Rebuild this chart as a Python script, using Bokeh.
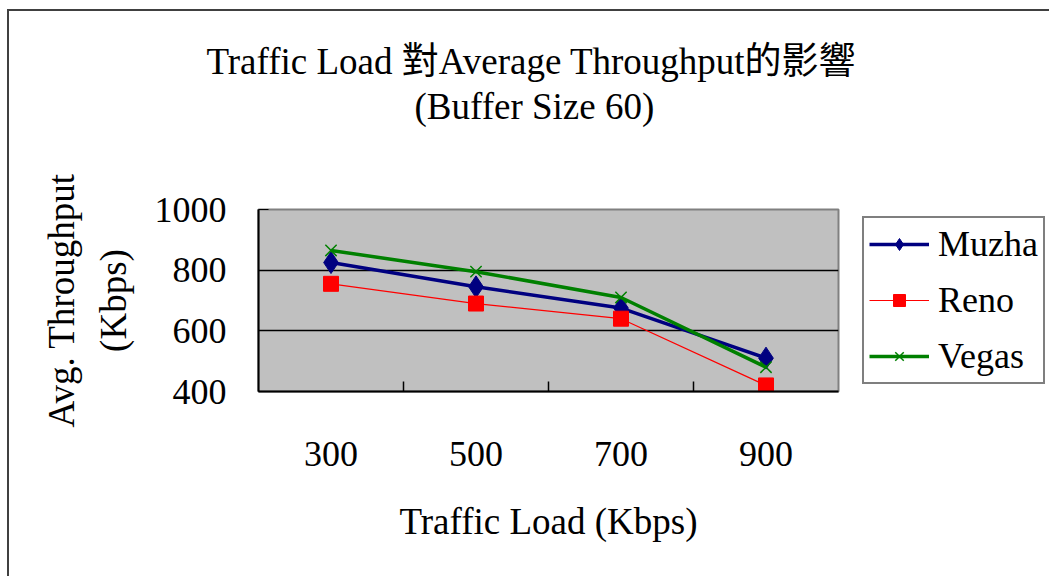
from bokeh.plotting import figure
from bokeh.models import (ColumnDataSource, FixedTicker, Legend, LegendItem,
                          Range1d, Title, LinearAxis)
from bokeh.embed import file_html
from bokeh.resources import INLINE

# ---- data ----
loads = [300, 500, 700, 900]
load_labels = ["300", "500", "700", "900"]
muzha = [825, 745, 675, 510]
reno = [755, 690, 640, 420]
vegas = [865, 795, 710, 480]
y_ticks = [400, 600, 800, 1000]
category_bounds = [400, 600, 800]

title1 = "Traffic Load 對Average Throughput的影響"
title2 = "(Buffer Size 60)"
xlabel = "Traffic Load (Kbps)"
ylabel1 = "Avg. Throughput"
ylabel2 = "(Kbps)"

FONT = "'Liberation Serif', 'Noto Sans CJK TC', serif"
FS = "36px"
FS2 = "37px"

OX, OY = 9, 11           # outer border offset (CSS)
FL, FT, FR, FB = 258, 209, 838, 391  # frame edges in window px
W, H = 1049 - OX, 576 - OY

p = figure(width=W, height=H, output_backend="svg", toolbar_location=None,
           frame_width=FR - FL, frame_height=FB - FT,
           min_border_left=FL - OX, min_border_top=FT - OY,
           min_border_right=W - (FR - OX), min_border_bottom=H - (FB - OY),
           x_range=Range1d(200, 1000), y_range=Range1d(400, 1000),
           background_fill_color="#C0C0C0", border_fill_color="white")
p.styles = {"border-left": "2px solid #404040", "border-top": "2px solid #404040",
            "margin-left": "%dpx" % (OX - 2), "margin-top": "%dpx" % (OY - 2)}

p.outline_line_color = "#808080"
p.outline_line_width = 2

# titles (first-added 'above' item sits nearest the frame; p.title outermost)
p.title.text = title1
p.title.text_font = FONT
p.title.text_font_size = FS2
p.title.text_font_style = "normal"
p.title.text_color = "black"
p.title.align = "left"
p.title.offset = -52
p.title.standoff = 3
spacer = Title(text="\u00a0", text_font=FONT, text_font_size=FS2,
               text_color="white", standoff=40)
t2 = Title(text=title2, text_font=FONT, text_font_size=FS2, text_font_style="normal",
           text_color="black", align="left", offset=156, standoff=0)
p.add_layout(spacer, "above")
p.add_layout(t2, "above")

# x axis
xa = p.xaxis[0]
xa.ticker = FixedTicker(ticks=loads, minor_ticks=category_bounds)
xa.major_label_overrides = {v: s for v, s in zip(loads, load_labels)}
xa.major_tick_line_color = None
xa.minor_tick_in = 10
xa.minor_tick_out = 0
xa.minor_tick_line_color = "black"
xa.minor_tick_line_width = 1.5
xa.axis_line_color = "black"
xa.axis_line_width = 2
xa.major_label_standoff = 44
xa.major_label_text_font = FONT
xa.major_label_text_font_size = FS
xa.major_label_text_color = "black"
xa.axis_label = xlabel
xa.axis_label_text_font = FONT
xa.axis_label_text_font_size = FS2
xa.axis_label_text_font_style = "normal"
xa.axis_label_text_color = "black"
xa.axis_label_standoff = 32

# y axis
ya = p.yaxis[0]
ya.ticker = FixedTicker(ticks=y_ticks)
ya.minor_tick_line_color = None
ya.major_tick_in = 10
ya.major_tick_out = 0
ya.major_tick_line_color = "black"
ya.axis_line_color = "black"
ya.axis_line_width = 2
ya.major_label_standoff = 32
ya.major_label_text_font = FONT
ya.major_label_text_font_size = FS
ya.major_label_text_color = "black"
ya.axis_label = ylabel2
ya.axis_label_text_font = FONT
ya.axis_label_text_font_size = FS2
ya.axis_label_text_font_style = "normal"
ya.axis_label_text_color = "black"
ya.axis_label_standoff = 18

ya2 = LinearAxis(ticker=FixedTicker(ticks=[]),
                 axis_line_color=None, major_tick_line_color=None,
                 minor_tick_line_color=None, major_label_text_font_size="0px",
                 axis_label=ylabel1, axis_label_text_font=FONT,
                 axis_label_text_font_size=FS2, axis_label_text_font_style="normal",
                 axis_label_text_color="black", axis_label_standoff=8)
p.add_layout(ya2, "left")

p.xgrid.grid_line_color = None
p.ygrid.ticker = FixedTicker(ticks=[600, 800])
p.ygrid.grid_line_color = "black"
p.ygrid.grid_line_width = 1.5

src = ColumnDataSource(dict(x=loads, muzha=muzha, reno=reno, vegas=vegas))

l_m = p.line("x", "muzha", source=src, line_color="#000080", line_width=3.5)
s_m = p.scatter("x", "muzha", source=src, marker="diamond", size=22,
                fill_color="#000080", line_color="#000080")
l_r = p.line("x", "reno", source=src, line_color="#FF0000", line_width=1.2)
s_r = p.scatter("x", "reno", source=src, marker="square", size=15,
                fill_color="#FF0000", line_color="#FF0000")
l_v = p.line("x", "vegas", source=src, line_color="#008000", line_width=3.5)
s_v = p.scatter("x", "vegas", source=src, marker="x", size=16,
                line_color="#008000", line_width=1.5)

legend = Legend(items=[
    LegendItem(label="Muzha", renderers=[l_m, s_m]),
    LegendItem(label="Reno", renderers=[l_r, s_r]),
    LegendItem(label="Vegas", renderers=[l_v, s_v]),
], location="center_left")
legend.label_text_font = FONT
legend.label_text_font_size = FS
legend.label_text_color = "black"
legend.glyph_width = 60
legend.glyph_height = 30
legend.spacing = 14
legend.padding = 5
legend.margin = 24
legend.label_standoff = 9
legend.border_line_color = "black"
legend.border_line_width = 2
legend.background_fill_color = "white"
legend.background_fill_alpha = 1
p.add_layout(legend, "right")

open("out.html", "w").write(file_html(p, INLINE))
